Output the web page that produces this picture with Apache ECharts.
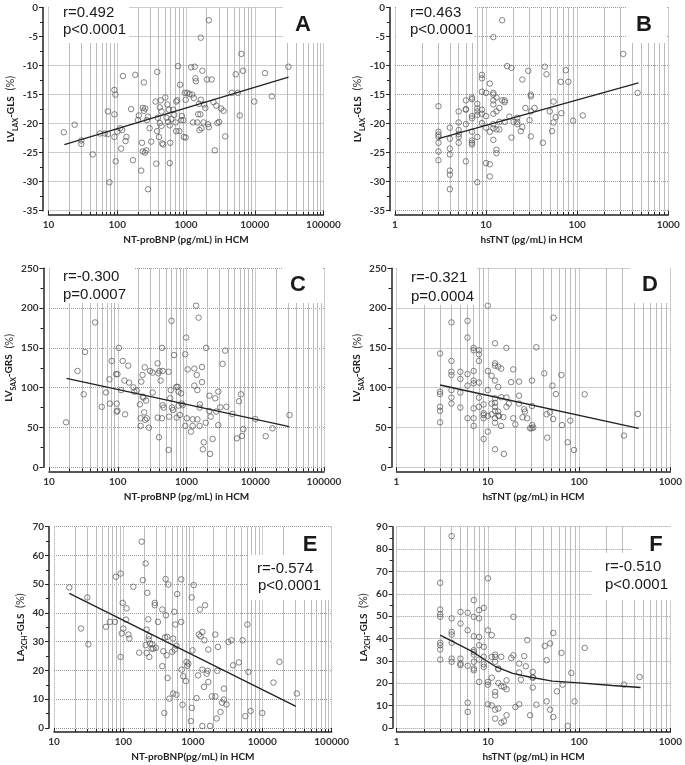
<!DOCTYPE html>
<html>
<head>
<meta charset="utf-8">
<script src="https://cdn.jsdelivr.net/npm/echarts@6/dist/echarts.min.js"></script>
<style>html,body{margin:0;padding:0;background:#fff}#c{width:685px;height:765px}</style>
</head>
<body>
<div id="c"></div>
<script>
// ---------- DATA ----------
// Panel A: NT-proBNP vs LV_LAX-GLS
const aX = [16.7,24,30,30,44,56,66,73,73,77,91,94,91,91,95,100,110,114,121,118,136,132,159,169,183,200,206,223,229,236,244,236,244,255,253,265,270,280,295,280,312,362,370,380,382,390,405,415,415,428,440,440,450,465,500,520,535,550,565,580,590,580,610,650,675,705,720,720,745,765,800,820,850,870,915,930,960,990,990,1040,1120,1190,1230,1265,1300,1340,1370,1390,1460,1500,1550,1570,1620,1640,1640,1680,1730,1800,1840,1910,2020,2090,2150,2150,2360,2510,2620,2760,2860,3030,3240,3520,3720,4640,5290,5660,6060,6390,6760,9840,14100,17700,30800];
const aY = [-21.5,-20.2,-22.9,-23.5,-25.3,-21.7,-21.7,-21.8,-17.9,-30.1,-14.2,-15.0,-18.4,-22.3,-26.5,-21.4,-20.8,-24.3,-11.8,-21.1,-22.3,-23.0,-17.5,-26.3,-11.6,-19.4,-18.6,-28.1,-23.3,-24.8,-12.9,-17.3,-17.8,-17.4,-25.0,-24.6,-19.4,-18.8,-20.8,-31.3,-23.1,-16.2,-26.9,-21.3,-11.1,-19.0,-22.3,-19.9,-17.2,-16.0,-17.9,-20.4,-23.4,-23.6,-15.5,-19.0,-16.7,-19.7,-17.6,-20.3,-23.3,-26.8,-19.2,-17.6,-18.5,-19.8,-16.2,-21.3,-16.0,-10.1,-21.3,-13.3,-19.4,-18.7,-19.4,-22.3,-14.7,-22.4,-15.9,-14.7,-14.9,-10.3,-15.0,-19.8,-15.6,-10.2,-12.2,-12.7,-19.8,-18.4,-16.6,-21.1,-18.4,-15.9,-5.2,-20.8,-10.9,-19.8,-16.7,-17.3,-12.4,-20.1,-2.2,-20.6,-12.4,-16.3,-24.6,-16.9,-19.9,-19.7,-17.4,-17.8,-22.2,-14.7,-11.5,-14.7,-18.6,-8.0,-10.9,-16.2,-11.3,-15.3,-10.2];
const aFitX = [17, 31000];
const aFitY = [-23.6, -12.0];

// Panel B: hsTNT vs LV_LAX-GLS
const bX = [3,3,3,3,3,3,3,4,4,4,4,4,4,4,5,5,5,5,5,5,6,6,6,6,6,7,7,7,7,7,7,7,7,8,8,8,8,8,8,9,9,9,9,9,9,10,10,10,10,11,11,11,11,12,12,12,12,12,12,12,12,12,13,13,13,13,13,14,14,14,15,15,16,16,16,17,18,19,19,20,22,22,22,24,25,25,27,29,30,31,31,31,31,34,42,44,46,50,53,55,55,58,66,67,75,80,90,115,320,460];
const bY = [-17.0,-21.4,-21.9,-22.3,-23.3,-24.8,-26.3,-20.7,-22.6,-24.3,-25.3,-28.1,-28.8,-31.3,-17.9,-19.8,-21.1,-21.8,-22.3,-23.3,-16.0,-17.5,-17.6,-20.1,-26.5,-15.5,-15.8,-18.7,-19.1,-21.4,-22.9,-23.3,-23.6,-16.6,-17.4,-17.9,-18.5,-22.3,-30.1,-11.6,-12.2,-14.5,-17.6,-18.3,-19.9,-14.7,-18.7,-20.7,-26.8,-13.1,-21.4,-27.0,-29.1,-5.1,-14.7,-15.0,-16.0,-16.7,-18.3,-20.1,-20.8,-22.8,-15.5,-17.9,-21.0,-24.5,-25.1,-17.3,-19.7,-21.0,-2.2,-16.0,-16.0,-16.3,-19.7,-10.1,-18.8,-10.4,-22.4,-19.7,-19.0,-19.7,-20.1,-21.3,-12.4,-20.6,-17.3,-10.9,-19.4,-15.0,-15.3,-17.9,-22.2,-17.3,-23.3,-10.2,-11.5,-17.9,-21.3,-16.2,-19.8,-18.9,-12.8,-18.2,-10.8,-12.8,-19.5,-18.6,-8.0,-14.7];
const bFitX = [3, 470];
const bFitY = [-22.6, -13.0];

// Panel C: NT-proBNP vs LV_SAX-GRS
const cX = [17.7,26,32,33.4,46.8,58.5,67.6,75.7,77,81.7,94.5,96.6,99,99,96.6,104,112,118,128,125,142,146,169,174,189,210,215,220,215,229,231,236,242,247,250,258,265,284,296,320,322,380,380,390,398,405,440,440,420,450,450,465,550,550,560,580,590,605,615,635,660,710,720,740,765,765,805,835,850,880,960,960,990,1010,1040,1160,1230,1230,1300,1300,1380,1410,1440,1440,1500,1550,1550,1570,1680,1680,1730,1780,1910,1930,2150,2150,2200,2250,2400,2620,2700,2900,2900,3100,3350,3650,3800,4650,5400,5800,6200,6400,6700,10000,14200,17800,31500];
const cY = [56.5,121,91.7,145,182,76,94,110.5,80,133.6,117,80,117,71,70,150,97,133.6,66.6,109,127.7,106.4,100.5,95,96.3,79,61.6,107.6,52,116,88.8,87.5,69,125.6,59.5,83.8,61.6,49.8,121,119,94,130.6,62.4,118,37.7,121,150,61.6,109,121,78,75,120,21.8,63.6,86.7,97,184,75,72,141,101,62.4,101,95,77.5,65.7,93,80,78,52,142,163,61.6,123,44.8,60.3,52,124,102.6,203,116,97,60.3,188,75,52,79,126,107,22.6,31.4,56,150,90,70.8,16.8,63.6,35.6,86.7,70,53,95,75.4,130,146.6,76,67,36.4,83,91.7,39.4,48,60.7,39,49,65.7];
const cFitX = [18, 31300];
const cFitY = [111.8, 51.1];

// Panel D: hsTNT vs LV_SAX-GRS
const dX = [3,3,3,3,3,3,4,4,4,4,4,4,4,5,5,5,5,6,6,6,6,6,7,7,7,7,7,7,7,7,8,8,8,8,8,8,9,9,9,9,9,10,10,10,10,10,11,11,11,12,12,12,12,12,12,12,12,12,12,12,13,13,13,13,13.3,14,14,14,14.8,15,16,16,16,17,18,19,19,20,22,22,22,24,25,25.5,27,29,30.2,30.5,30.5,30.7,31.5,34,41.5,44,44.8,48,51,52.5,52,55.6,64,65,75,80,88,115,310,440];
const dY = [143,95,92,76,71,56.5,182,133.6,120,116,97,87.5,80,120,111,94,75,184,163,117,102.6,61.6,150,147,121,109,105.5,74,61.6,52,147,142,133.6,106.4,87.5,76,79,68,65.7,61.6,35.6,203,121,97,64.5,44.8,115,80,66.6,155.8,130.6,127.7,109,86.7,81,76,70.8,61.6,56,22.6,126.5,101,70,65,64.5,124,88,52,63,16.8,150,87.5,76,80,107,123,61.6,54,107.6,90,80,62.8,73,70,61.6,49,49,109,77,53,50,150.8,118,66.6,37.3,69,102.6,188,60.7,92,116,53,31.4,58.6,21.8,91.7,39.8,67];
const dFitX = [3, 450];
const dFitY = [103.4, 49.0];

// Panel E: NT-proBNP vs LA_2CH-GLS
const eX = [16.6,24.5,30.2,31.3,56,64,75.5,78,91,91,94.6,97.5,100,109,111,118,122,139,169,183,190,209,216,209,216,221,228,233,231,236,242,255,260,268,283,283,293,315,363,363,375,388,398,405,410,420,428,433,445,460,505,520,520,540,550,560,580,580,595,680,680,690,710,725,795,810,830,860,935,965,965,990,1030,1130,1190,1220,1260,1290,1370,1370,1370,1450,1470,1500,1580,1630,1670,1670,1770,1880,2100,2110,2200,2250,2300,2500,2630,2800,2800,3050,3250,3600,3800,4600,5200,5700,6100,6300,6800,10000,14500,17700,31500];
const eY = [48.9,34.6,45.4,29.1,35.2,36.9,36.9,52.6,53.7,24.7,32.9,43.5,34.6,37.7,41.6,32.5,31.1,49.1,26.2,64.8,51.4,57.2,34.2,28.8,26.1,47,37.8,31.9,30.8,24.7,29.4,27.6,29.1,27.6,42.7,43.5,27.9,36.9,21.5,41.2,26.7,5.2,31.5,51.8,39.2,25.3,31.7,17.4,49.9,10.2,26.5,12.0,31.1,40.4,27.3,36.0,11.6,28.6,46.6,51.7,36.9,20.3,8.1,18.0,16.3,23.0,21.6,22.4,2.4,45.4,7.0,27.0,49.7,10.4,18.3,32.5,41.2,31.9,33.4,0.7,20.3,14.3,30.5,42.7,18.9,19.9,16.0,27.3,0.7,11.0,32.5,11.0,3.3,19.9,28.2,5.6,8.8,13.7,9.9,8.2,29.9,30.5,21.8,22.8,30.5,4.1,36.0,19.5,5.9,5.2,15.8,23.0,12.0];
const eFitX = [16.6, 30500];
const eFitY = [46.8, 7.5];

// Panel F: hsTNT vs LA_2CH-GLS
const fX = [3,3,3,3,3,3,3,3,4,4,4,4,4,4,4,5,5,5,5,5,6,6,6,6,6,7,7,7,7,7,7,7,7,7,8,8,8,8,8,8,9,9,9,9,9,10,10,10,10,10,11,11,11,11,12,12,12,12,12,12,12,13,13,13,13,14,14,14,15,15,16,16,16,18,19,19,20,22,22,22,23,25,26,27,29,31,31,31,31,34,42,44,44,48,48,52,52,57,64,66,75,82,89,115,310,460];
const fY = [64.9,53.0,50.9,49.7,38.1,37.0,35.1,30.6,85.8,49.0,43.0,41.8,38.1,31.0,29.6,51.9,46.7,31.0,28.8,28.1,51.5,43.7,27.8,11.3,7.2,57.2,49.7,41.0,34.0,32.8,29.6,26.6,25.8,34.8,52.7,49.0,40.7,37.0,30.6,20.6,53.7,36.3,31.8,28.5,27.3,66.9,43.7,20.6,19.4,10.6,41.5,31.8,22.5,10.1,32.8,31.8,29.6,16.1,14.6,8.2,4.2,26.6,20.1,8.7,26.3,31.8,18.7,2.4,18.4,3.0,21.3,17.3,5.7,31.3,49.7,32.5,9.4,28.8,24.8,10.6,21.6,32.1,27.6,39.3,5.7,25.1,22.8,18.1,22.4,10.4,36.7,30.3,11.9,37.8,8.2,42.5,4.9,16.4,33.6,19.4,0.9,24.6,11.9,35.8,19.4,22.8];
const fFitX = [3, 6.85, 12.3, 18.7, 28.5, 51, 100, 231, 471];
const fFitY = [41.5, 34.0, 27.3, 24.4, 22.8, 21.0, 20.2, 19.0, 18.1];

// Tick/axis settings
const bnpRange = [10, 100000];
const tntRange = [1, 1000];
const glsRange = [-35, 0];
const grsRange = [0, 250];
const laRangeE = [0, 70];
const laRangeF = [0, 90];

// ---------- CHART ----------
const zip = (xs, ys) => xs.slice(0, Math.min(xs.length, ys.length)).map((x, i) => [x, ys[i]]);
const FONT = 'Lato, "Liberation Sans", sans-serif';

function yName(main, sub, rest) {
  return '{m|' + main + '}{s|' + sub + '}{m|' + rest + '}{p|  (%)}';
}
const yRich = {
  m: { fontSize: 10, fontWeight: 'bold', fontFamily: FONT, color: '#222', lineHeight: 16, verticalAlign: 'middle' },
  s: { fontSize: 7, fontWeight: 'bold', fontFamily: FONT, color: '#222', lineHeight: 9, verticalAlign: 'bottom' },
  p: { fontSize: 11, fontFamily: FONT, color: '#333', lineHeight: 16, verticalAlign: 'middle' }
};

const panels = [
  { left: 48.5, top: 7.5, width: 275, height: 203.2, xr: bnpRange, yr: glsRange, yi: 5, xn: 'NT-proBNP (pg/mL) in HCM', yn: yName('LV', 'LAX', '-GLS'), X: aX, Y: aY, FX: aFitX, FY: aFitY, yoff: 5.5, ngap: 22 },
  { left: 395, top: 7.5, width: 273.3, height: 203.2, xr: tntRange, yr: glsRange, yi: 5, xn: 'hsTNT (pg/mL) in HCM', yn: yName('LV', 'LAX', '-GLS'), X: bX, Y: bY, FX: bFitX, FY: bFitY, yoff: 5, ngap: 21 },
  { left: 49, top: 268.3, width: 275, height: 199, xr: bnpRange, yr: grsRange, yi: 50, xn: 'NT-proBNP (pg/mL) in HCM', yn: yName('LV', 'SAX', '-GRS'), X: cX, Y: cY, FX: cFitX, FY: cFitY, yoff: 5.5, ngap: 22 },
  { left: 396.5, top: 268.3, width: 275, height: 199, xr: tntRange, yr: grsRange, yi: 50, xn: 'hsTNT (pg/mL) in HCM', yn: yName('LV', 'SAX', '-GRS'), X: dX, Y: dY, FX: dFitX, FY: dFitY, yoff: 5, ngap: 21 },
  { left: 54, top: 526.7, width: 277.7, height: 201.3, xr: bnpRange, yr: laRangeE, yi: 10, xn: 'NT-proBNP(pg/mL) in HCM', yn: yName('LA', '2CH', '-GLS'), X: eX, Y: eY, FX: eFitX, FY: eFitY, yoff: 5, ngap: 20 },
  { left: 396.7, top: 526.7, width: 275, height: 201.3, xr: tntRange, yr: laRangeF, yi: 10, xn: 'hsTNT (pg/mL) in HCM', yn: yName('LA', '2CH', '-GLS'), X: fX, Y: fY, FX: fFitX, FY: fFitY, yoff: 4, ngap: 21 }
];

const grid = [], xAxis = [], yAxis = [], series = [];
panels.forEach((p, i) => {
  grid.push({ left: p.left, top: p.top, width: p.width, height: p.height, containLabel: false });
  xAxis.push({
    type: 'log', logBase: 10, gridIndex: i, min: p.xr[0], max: p.xr[1], offset: 4,
    axisLine: { show: true, onZero: false, lineStyle: { color: '#222', width: 1.5 } },
    axisTick: { show: true, inside: true, length: 4, lineStyle: { color: '#222' } },
    minorTick: { show: true, splitNumber: 9, length: 3, lineStyle: { color: '#222' } },
    axisLabel: { margin: 5, fontSize: 10, fontWeight: 'bold', fontFamily: FONT, color: '#333', formatter: v => String(Math.round(v)) },
    splitLine: { show: true, lineStyle: { color: '#999', type: 'dotted', width: 1 } },
    minorSplitLine: { show: true, lineStyle: { color: '#bcbcbc', width: 1 } },
    name: p.xn, nameLocation: 'middle', nameGap: 20,
    nameTextStyle: { fontSize: 10, fontWeight: 'bold', fontFamily: FONT, color: '#222' }
  });
  yAxis.push({
    type: 'value', gridIndex: i, min: p.yr[0], max: p.yr[1], interval: p.yi, offset: p.yoff,
    axisLine: { show: true, onZero: false, lineStyle: { color: '#222', width: 1.5 } },
    axisTick: { show: true, length: 4, lineStyle: { color: '#222' } },
    minorTick: { show: true, splitNumber: 2, length: 3, lineStyle: { color: '#222' } },
    axisLabel: { margin: 5, fontSize: 10, fontWeight: 'bold', fontFamily: FONT, color: '#333' },
    splitLine: { show: true, lineStyle: { color: '#999', type: 'dotted', width: 1 } },
    name: p.yn, nameLocation: 'middle', nameGap: p.ngap,
    nameTextStyle: { rich: yRich }
  });
  series.push({
    type: 'scatter', xAxisIndex: i, yAxisIndex: i, data: zip(p.X, p.Y), symbol: 'circle', symbolSize: 5.5, z: 5,
    itemStyle: { color: 'rgba(255,255,255,0)', borderColor: '#555', borderWidth: 0.9 }, silent: true
  });
  series.push({
    type: 'line', xAxisIndex: i, yAxisIndex: i, data: zip(p.FX, p.FY), symbol: 'none', z: 6,
    lineStyle: { color: '#222', width: 1.3 }, silent: true
  });
});

// annotation boxes
const noteFont = '15px "Liberation Sans", Arial, sans-serif';
const letterFont = 'bold 22px "Liberation Sans", Arial, sans-serif';
function box(x, y, w, h) { return { type: 'rect', z: 3, shape: { x, y, width: w, height: h }, style: { fill: '#fff' }, silent: true }; }
function txt(s, x, y, font, align) { return { type: 'text', z: 4, x, y, style: { text: s, font, fill: '#1a1a1a', align: align || 'left', verticalAlign: 'middle', textAlign: align || 'left', textVerticalAlign: 'middle' }, silent: true }; }
const graphic = [
  box(49, 3, 80, 40), txt('r=0.492', 63, 13, noteFont), txt('p<0.0001', 63, 30, noteFont),
  box(283, 3, 42, 40), txt('A', 303, 25, letterFont, 'center'),
  box(396, 3, 78, 40), txt('r=0.463', 410, 13, noteFont), txt('p<0.0001', 410, 30, noteFont),
  box(627, 3, 40, 40), txt('B', 644, 25, letterFont, 'center'),
  box(50, 265, 85, 38), txt('r=-0.300', 63, 277, noteFont), txt('p=0.0007', 63, 295, noteFont),
  box(282, 265, 40, 38), txt('C', 298, 285, letterFont, 'center'),
  box(397, 265, 80, 40), txt('r=-0.321', 411, 278, noteFont), txt('p=0.0004', 411, 297, noteFont),
  box(630, 265, 40, 38), txt('D', 650, 285, letterFont, 'center'),
  box(286, 527, 45, 30), txt('E', 310, 545, letterFont, 'center'),
  box(248, 555, 83, 45), txt('r=-0.574', 257, 569, noteFont), txt('p<0.0001', 258, 586, noteFont),
  box(632, 527, 42, 30), txt('F', 656, 545, letterFont, 'center'),
  box(592, 553, 80, 47), txt('r=-0.510', 605, 567, noteFont), txt('p<0.0001', 605, 585, noteFont)
];

const chart = echarts.init(document.getElementById('c'), null, { renderer: 'canvas' });
chart.setOption({ animation: false, backgroundColor: '#fff', grid, xAxis, yAxis, series, graphic });
</script>
</body>
</html>
